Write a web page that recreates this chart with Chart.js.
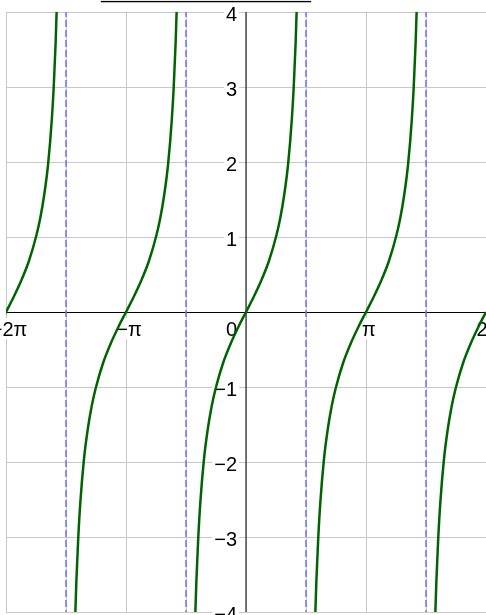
<!DOCTYPE html>
<html>
<head>
<meta charset="utf-8">
<script src="https://cdn.jsdelivr.net/npm/chart.js@4.4.1/dist/chart.umd.min.js"></script>
<style>
  html, body { margin: 0; padding: 0; background: #fff; overflow: hidden; }
  canvas { display: block; }
</style>
</head>
<body>
<canvas id="c" width="486" height="615"></canvas>
<script>
const PI = Math.PI;

// Grid positions: multiples of π/2 across, whole units up and down
const xGrid = [-2 * PI, -1.5 * PI, -PI, -0.5 * PI, 0, 0.5 * PI, PI, 1.5 * PI, 2 * PI];
const yGrid = [-4, -3, -2, -1, 0, 1, 2, 3, 4];

// Axis labels
const xLabelValues = [-2 * PI, -PI, 0, PI, 2 * PI];
const xLabels = ['−2π', '−π', '0', 'π', '2π'];
const yLabelValues = [-4, -3, -2, -1, 1, 2, 3, 4];
const yLabels = ['−4', '−3', '−2', '−1', '1', '2', '3', '4'];

// Vertical asymptotes of tan x
const asymptotes = [-1.5 * PI, -0.5 * PI, 0.5 * PI, 1.5 * PI];

// Each branch of y = tan x, centred on a root
const branchCentres = [-2 * PI, -PI, 0, PI, 2 * PI];
const branchDx = [-1.37, -1.33, -1.30, -1.25, -1.20, -1.10, -1.00, -0.90, -0.80, -0.60, -0.40, -0.20, 0,
                   0.20, 0.40, 0.60, 0.80, 0.90, 1.00, 1.10, 1.20, 1.25, 1.30, 1.33, 1.37];
const branchY  = [-4.90, -4.07, -3.60, -3.01, -2.57, -1.96, -1.56, -1.26, -1.03, -0.68, -0.42, -0.20, 0,
                   0.20, 0.42, 0.68, 1.03, 1.26, 1.56, 1.96, 2.57, 3.01, 3.60, 4.07, 4.90];

const FONT = '20px "Liberation Sans", Arial, sans-serif';

const asymptoteSets = asymptotes.map(a => ({
  data: [{ x: a, y: -5 }, { x: a, y: 5 }],
  showLine: true,
  borderColor: 'rgb(110,110,255)',
  borderWidth: 1.5,
  borderDash: [7, 3],
  pointRadius: 0,
  clip: 0
}));

const branchSets = branchCentres.map(c => ({
  data: branchDx.map((d, i) => ({ x: c + d, y: branchY[i] })),
  showLine: true,
  borderColor: 'rgb(0,100,0)',
  borderWidth: 2.5,
  cubicInterpolationMode: 'monotone',
  pointRadius: 0,
  clip: 0
}));

// Axes lines and boxed labels, drawn over the grid and under the curves
const axesPlugin = {
  id: 'axesLabels',
  beforeDatasetsDraw(chart) {
    const { ctx, chartArea: a, scales: { x, y } } = chart;
    const x0 = x.getPixelForValue(0);
    const y0 = y.getPixelForValue(0);
    ctx.save();
    ctx.lineWidth = 1;
    ctx.strokeStyle = '#000';
    ctx.beginPath();
    ctx.moveTo(a.left, Math.round(y0) + 0.5);
    ctx.lineTo(a.right, Math.round(y0) + 0.5);
    ctx.stroke();
    ctx.beginPath();
    ctx.moveTo(x0, a.top);
    ctx.lineTo(x0, a.bottom);
    ctx.stroke();

    ctx.font = FONT;
    ctx.textBaseline = 'alphabetic';

    // y labels, right-aligned left of the vertical axis
    ctx.textAlign = 'right';
    yLabelValues.forEach((v, i) => {
      const py = y.getPixelForValue(v);
      const w = ctx.measureText(yLabels[i]).width;
      const rx = x0 - 9;
      ctx.fillStyle = '#fff';
      ctx.fillRect(rx - w - 2, py - 8, w + 4, 19);
      ctx.fillStyle = '#000';
      ctx.fillText(yLabels[i], rx, py + 8.5);
    });

    // x labels below the horizontal axis
    xLabelValues.forEach((v, i) => {
      const px = x.getPixelForValue(v);
      const w = ctx.measureText(xLabels[i]).width;
      let left;
      if (v === 0) {
        left = x0 - 9 - w;
      } else {
        left = px + 3 - w / 2;
      }
      ctx.fillStyle = '#fff';
      ctx.fillRect(left - 2, y0 + 6, w + 4, 21);
      ctx.fillStyle = '#000';
      ctx.textAlign = 'left';
      ctx.fillText(xLabels[i], left, y0 + 24);
    });
    ctx.restore();
  },
  afterDraw(chart) {
    const { ctx } = chart;
    ctx.save();
    ctx.font = '20px "DejaVu Sans", sans-serif';
    ctx.fillStyle = '#000';
    ctx.textAlign = 'left';
    ctx.textBaseline = 'alphabetic';
    ctx.fillText('_'.repeat(21), 101, -2);
    ctx.restore();
  }
};

new Chart(document.getElementById('c'), {
  type: 'scatter',
  data: { datasets: [...asymptoteSets, ...branchSets] },
  options: {
    responsive: false,
    animation: false,
    events: [],
    layout: { padding: { left: 6, top: 12, right: 0, bottom: 3 } },
    plugins: { legend: { display: false }, tooltip: { enabled: false } },
    scales: {
      x: {
        type: 'linear',
        min: -2 * PI,
        max: 2 * PI,
        afterBuildTicks: s => { s.ticks = xGrid.map(v => ({ value: v })); },
        ticks: { display: false },
        grid: { color: '#c8c8c8', lineWidth: 1, drawTicks: false },
        border: { display: false }
      },
      y: {
        type: 'linear',
        min: -4,
        max: 4,
        afterBuildTicks: s => { s.ticks = yGrid.map(v => ({ value: v })); },
        ticks: { display: false },
        grid: { color: '#c8c8c8', lineWidth: 1, drawTicks: false },
        border: { display: false }
      }
    }
  },
  plugins: [axesPlugin]
});
</script>
</body>
</html>
